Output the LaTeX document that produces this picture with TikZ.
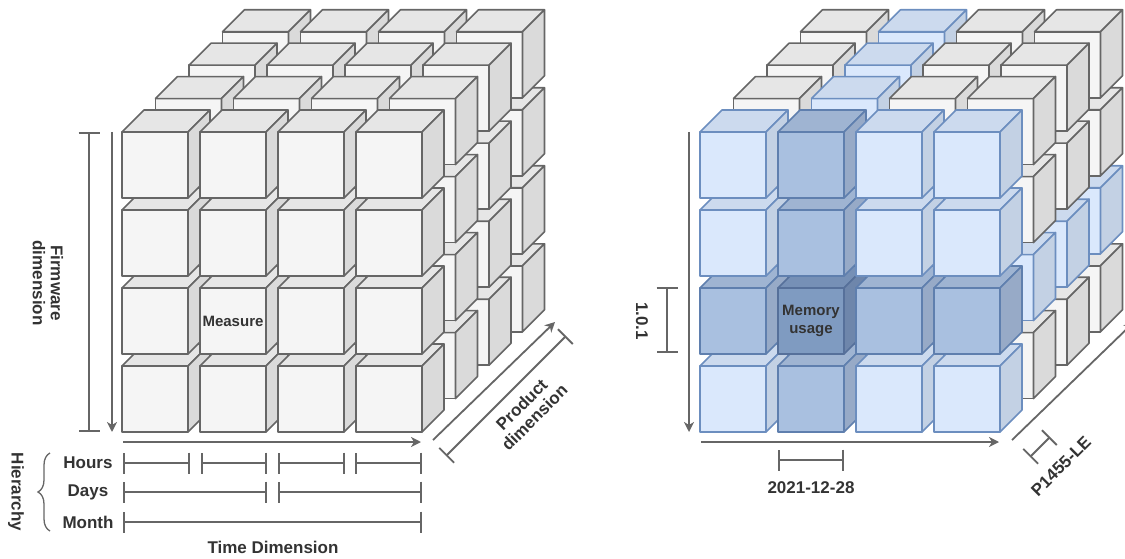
\documentclass[tikz,border=0pt]{standalone}
\usepackage{fontspec}
\setmainfont{Liberation Sans}
\usetikzlibrary{arrows.meta,decorations.pathreplacing,calc}

% cube colour schemes: grey, one slice, two slices, all three slices
\definecolor{grayF}{HTML}{F5F5F5}\definecolor{grayT}{HTML}{E6E6E6}
\definecolor{grayS}{HTML}{DADADA}\definecolor{grayL}{HTML}{666666}
\definecolor{lightF}{HTML}{DAE8FC}\definecolor{lightT}{HTML}{CCDAEE}
\definecolor{lightS}{HTML}{C3D1E4}\definecolor{lightL}{HTML}{6C8EBF}
\definecolor{midF}{HTML}{A9C0E0}\definecolor{midT}{HTML}{9FB4D2}
\definecolor{midS}{HTML}{97AAC7}\definecolor{midL}{HTML}{5F7FAE}
\definecolor{darkF}{HTML}{7F9BC1}\definecolor{darkT}{HTML}{7690B6}
\definecolor{darkS}{HTML}{6E86AB}\definecolor{darkL}{HTML}{56709A}
\definecolor{linegray}{HTML}{666666}
\definecolor{textgray}{HTML}{333333}

% one cube: x, y (top-left of front face), front, top, side, stroke colours
\newcommand\unitcube[6]{%
  \draw[draw=#6, fill=#3, line width=1.6pt, line join=round] (#1,#2) rectangle ++(66,66);
  \draw[draw=#6, fill=#4, line width=1.6pt, line join=round] (#1,#2) -- ++(22,-22) -- ++(66,0) -- ++(-22,22) -- cycle;
  \draw[draw=#6, fill=#5, line width=1.6pt, line join=round] ($(#1,#2)+(66,0)$) -- ++(22,-22) -- ++(0,66) -- ++(-22,22) -- cycle;
}

\tikzset{
  edge/.style={draw=linegray, line width=1.8pt},
  arr/.style={edge, -{Stealth[length=10pt,width=10pt,inset=3pt]}},
  dimline/.style={edge, {Bar[width=21pt]}-{Bar[width=21pt]}},
  lbl/.style={font=\fontsize{17}{18}\selectfont\bfseries, text=textgray, align=center, inner sep=0pt},
  cubelbl/.style={font=\fontsize{15}{18}\selectfont\bfseries, text=textgray, align=center, inner sep=0pt}
}

\begin{document}
\begin{tikzpicture}[x=1pt,y=-1pt]
\useasboundingbox (0,0) rectangle (1125,559);
\clip (0,0) rectangle (1125,559);

% left data cube, all grey; layers back to front, rows bottom to top
\foreach \l in {0,...,3}{
  \foreach \r in {3,2,1,0}{
    \foreach \c in {0,...,3}{
      \pgfmathsetmacro\cx{122+78*\c+(3-\l)*33.5}
      \pgfmathsetmacro\cy{132+78*\r-(3-\l)*33.4}
      \unitcube{\cx}{\cy}{grayF}{grayT}{grayS}{grayL}
    }
  }
}

% right data cube, slices coloured by how many of them meet
\foreach \l in {0,...,3}{
  \foreach \r in {3,2,1,0}{
    \foreach \c in {0,...,3}{
      \pgfmathsetmacro\cx{700+78*\c+(3-\l)*33.5}
      \pgfmathsetmacro\cy{132+78*\r-(3-\l)*33.4}
      \pgfmathtruncatemacro\k{(\l==3)+(\c==1)+(\r==2)}
      \ifcase\k
        \def\cF{grayF}\def\cT{grayT}\def\cS{grayS}\def\cL{grayL}%
      \or
        \def\cF{lightF}\def\cT{lightT}\def\cS{lightS}\def\cL{lightL}%
      \or
        \def\cF{midF}\def\cT{midT}\def\cS{midS}\def\cL{midL}%
      \else
        \def\cF{darkF}\def\cT{darkT}\def\cS{darkS}\def\cL{darkL}%
      \fi
      \unitcube{\cx}{\cy}{\cF}{\cT}{\cS}{\cL}
    }
  }
}

% cell labels
\node[cubelbl] (measure) at (233,321) {Measure};
\node[cubelbl] (memory) at (811,321) {Memory\\usage};

% ---- left cube axes ----
\coordinate (fwTop) at (89,132);   \coordinate (fwBot) at (89,432);
\coordinate (faTop) at (112,132);  \coordinate (faBot) at (112,432);
\coordinate (taL) at (123,442);    \coordinate (taR) at (421,442);
\coordinate (paL) at (433,440);    \coordinate (paR) at (555,322);
\coordinate (pdL) at (446,456);    \coordinate (pdR) at (566,336);
\draw[dimline] (fwTop) -- (fwBot);
\draw[arr] (faTop) -- (faBot);
\draw[arr] (taL) -- (taR);
\draw[arr] (paL) -- (paR);
\draw[dimline] (pdL) -- (pdR);

\node[lbl, rotate=-90] (fwtext) at (48,283) {Firmware\\dimension};
\node[lbl, rotate=45] (prodtext) at (528,411) {Product\\dimension};

% time hierarchy
\node[lbl] (hours) at (88,463) {Hours};
\node[lbl] (days) at (88,492) {Days};
\node[lbl] (month) at (88,522) {Month};
\foreach \a/\b [count=\i] in {123/190,201/267,278/345,355/422}{
  \coordinate (h\i a) at (\a,463); \coordinate (h\i b) at (\b,463);
  \draw[dimline] (h\i a) -- (h\i b);
}
\coordinate (d1a) at (123,492); \coordinate (d1b) at (267,492);
\coordinate (d2a) at (278,492); \coordinate (d2b) at (422,492);
\draw[dimline] (d1a) -- (d1b);
\draw[dimline] (d2a) -- (d2b);
\coordinate (m1a) at (123,522); \coordinate (m1b) at (422,522);
\draw[dimline] (m1a) -- (m1b);

\coordinate (brB) at (50,531); \coordinate (brT) at (50,453);
\draw[draw=linegray, line width=1.3pt, decorate,
      decoration={brace, amplitude=12pt}] (brB) -- (brT);
\node[lbl, rotate=-90] (hier) at (16,492) {Hierarchy};
\node[lbl] (timedim) at (273,547) {Time Dimension};

% ---- right cube axes ----
\coordinate (raTop) at (689,132);  \coordinate (raBot) at (689,432);
\coordinate (verTop) at (667,287); \coordinate (verBot) at (667,353);
\coordinate (rtL) at (701,442);    \coordinate (rtR) at (999,442);
\coordinate (dtL) at (778,460);    \coordinate (dtR) at (844,460);
\coordinate (rpL) at (1012,440);   \coordinate (rpR) at (1134,322);
\coordinate (prL) at (1030,457);   \coordinate (prR) at (1050,437);
\draw[arr] (raTop) -- (raBot);
\draw[dimline] (verTop) -- (verBot);
\draw[arr] (rtL) -- (rtR);
\draw[dimline] (dtL) -- (dtR);
\draw[arr] (rpL) -- (rpR);
\draw[dimline] (prL) -- (prR);

\node[lbl, rotate=-90] (ver) at (642,321) {1.0.1};
\node[lbl] (date) at (811,488) {2021-12-28};
\node[lbl, rotate=45] (prod) at (1061,466) {P1455-LE};
\end{tikzpicture}
\end{document}
